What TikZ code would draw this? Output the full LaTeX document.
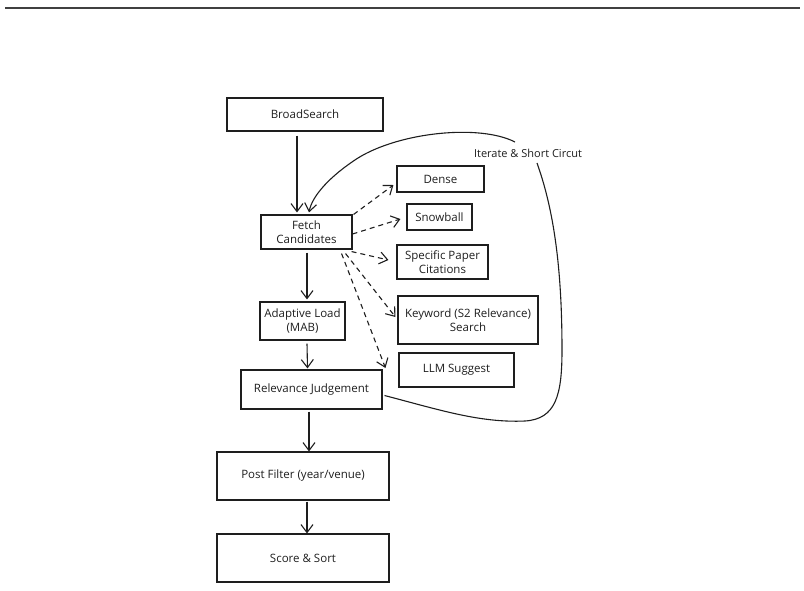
\documentclass[tikz,border=0pt]{standalone}
\usepackage{fontspec}
\setmainfont{Open Sans}
\usetikzlibrary{arrows.meta}
\definecolor{ink}{HTML}{1E1E1E}
\tikzset{
  box/.style={draw=ink, line width=1.1pt, inner sep=2pt, align=center, font=\fontsize{11.5}{14}\selectfont, text=ink},
  arr/.style={draw=ink, line width=1.1pt, -{Straight Barb[length=8pt,width=12pt,line width=1.1pt]}},
  darr/.style={arr, dash pattern=on 5pt off 4pt},
}
\begin{document}
\begin{tikzpicture}[x=1pt,y=-1pt]
\useasboundingbox (0,0) rectangle (804,590);
\draw[line width=1.6pt, ink!85] (5,8) -- (800,8);

\node[box, minimum width=156pt, minimum height=33pt] (bs) at (305,114.5) {BroadSearch};
\node[box, minimum width=91pt, minimum height=34pt] (fc) at (306.5,232) {Fetch\\Candidates};
\node[box, minimum width=85pt, minimum height=38pt] (al) at (302.5,321) {Adaptive Load\\(MAB)};
\node[box, minimum width=141pt, minimum height=39pt] (rj) at (311.5,389.5) {Relevance Judgement};
\node[box, minimum width=172pt, minimum height=48pt] (pf) at (303,476) {Post Filter (year/venue)};
\node[box, minimum width=172pt, minimum height=48pt] (ss) at (303,558) {Score \& Sort};

\node[box, minimum width=87pt, minimum height=26pt] (de) at (440.5,179) {Dense};
\node[box, minimum width=65pt, minimum height=26pt] (sb) at (439.5,217) {Snowball};
\node[box, minimum width=91pt, minimum height=34pt] (sp) at (442.5,262) {Specific Paper\\Citations};
\node[box, minimum width=140pt, minimum height=48pt] (kw) at (468,320) {Keyword (S2 Relevance)\\Search};
\node[box, minimum width=115pt, minimum height=34pt] (ll) at (456.5,370) {LLM Suggest};

\node[font=\fontsize{11}{13}\selectfont, text=ink] (lab) at (528,153) {Iterate \& Short Circut};

% main flow
\draw[arr] ([xshift=-8pt,yshift=-4pt]bs.south) -- ([xshift=-9.5pt,yshift=2pt]fc.north);
\draw[arr] ([xshift=0.5pt,yshift=-3pt]fc.south) -- ([xshift=4.5pt,yshift=2pt]al.north);
\draw[arr] ([xshift=4.5pt,yshift=-3pt]al.south) -- ([xshift=-4pt,yshift=1pt]rj.north);
\draw[arr] ([xshift=-2.5pt,yshift=-2pt]rj.south) -- ([xshift=6pt,yshift=0pt]pf.north);
\draw[arr] ([xshift=4pt,yshift=-1pt]pf.south) -- ([xshift=4pt,yshift=0pt]ss.north);

% dashed fan-out
\draw[darr] ([xshift=1pt]fc.north east) -- ([xshift=-3pt,yshift=-6pt]de.west);
\draw[darr] ([yshift=-2pt]fc.east) -- ([xshift=-6pt,yshift=-2pt]sb.west);
\draw[darr] ([xshift=-1pt,yshift=-2pt]fc.south east) -- ([xshift=-8pt,yshift=2pt]sp.west);
\draw[darr] ([xshift=-7pt,yshift=-4pt]fc.south east) -- ([xshift=-2pt,yshift=3pt]kw.west);
\draw[darr] ([xshift=-11pt,yshift=-4pt]fc.south east) -- ([xshift=-13pt,yshift=2pt]ll.west);

% iterate loop
\coordinate (loopa) at (537,163);
\coordinate (loopb) at (515,142);
\draw[draw=ink, line width=1.1pt] ([xshift=2pt,yshift=-6pt]rj.east) .. controls (440,410) and (480,423) .. (525,421)
  .. controls (556,419) and (562,395) .. (562,350)
  .. controls (562,260) and (552,205) .. (loopa);
\draw[arr] (loopb) .. controls (480,124) and (400,132) .. (358,158)
  .. controls (330,176) and (312,196) .. ([xshift=2.5pt,yshift=2pt]fc.north);
\end{tikzpicture}
\end{document}
